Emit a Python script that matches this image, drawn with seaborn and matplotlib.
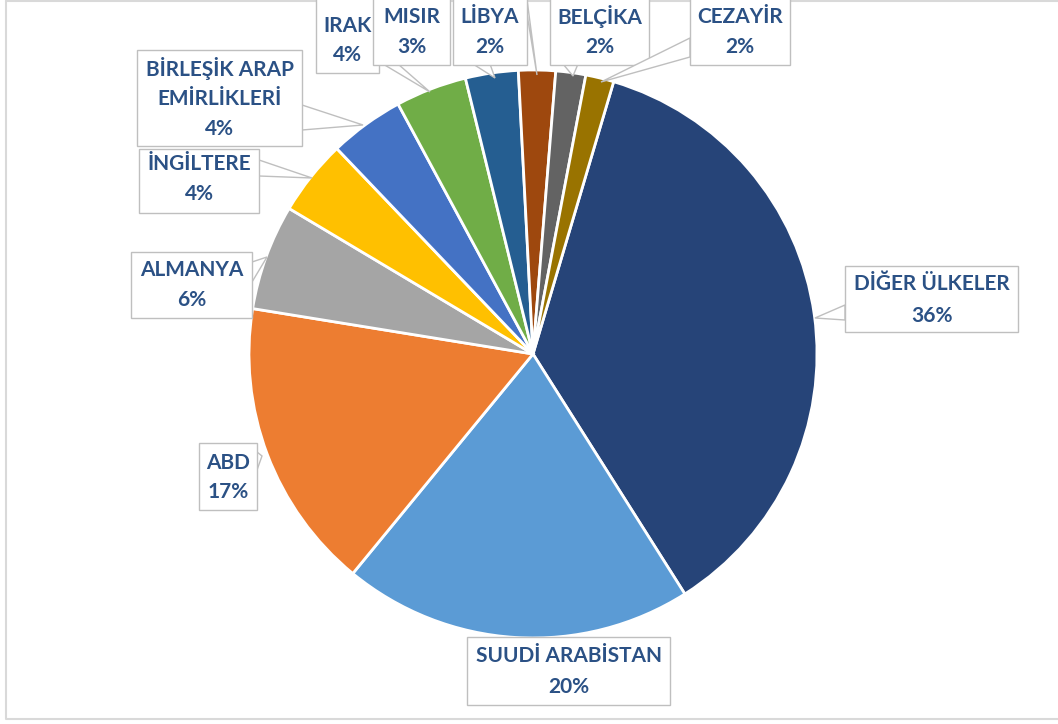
import matplotlib
matplotlib.use("Agg")
import matplotlib.pyplot as plt
import seaborn as sns
from matplotlib.patches import Rectangle, Polygon

sns.set_theme(style="white")
plt.rcParams['font.family'] = ['Lato', 'DejaVu Sans']

# ---- data ----
countries = ["DİĞER ÜLKELER", "SUUDİ ARABİSTAN", "ABD", "ALMANYA", "İNGİLTERE",
             "BİRLEŞİK ARAP\nEMİRLİKLERİ", "IRAK", "MISIR", "LİBYA", "BELÇİKA", "CEZAYİR"]
shares = [36.4, 19.9, 16.6, 6.0, 4.3, 4.25, 4.05, 3.0, 2.1, 1.7, 1.6]
pct_labels = ["36%", "20%", "17%", "6%", "4%", "4%", "4%", "3%", "2%", "2%", "2%"]
colors = ["#264478", "#5B9BD5", "#ED7D31", "#A5A5A5", "#FFC000", "#4472C4",
          "#70AD47", "#255E91", "#9E480E", "#636363", "#997300"]

W, H = 1058, 724
fig = plt.figure(figsize=(W / 100, H / 100), dpi=100)
ax = fig.add_axes([0, 0, 1, 1])


def P(x, y):
    return (x, H - y)


cx, cy = P(533, 354)
ax.pie(shares, colors=sns.color_palette(colors), startangle=73.5, counterclock=False,
       radius=284, center=(cx, cy),
       wedgeprops=dict(edgecolor="white", linewidth=2))
ax.set_xlim(0, W)
ax.set_ylim(0, H)
ax.set_aspect("auto")
ax.axis("off")

# chart border
ax.plot([6, 6, W + 5], [H - 1, 5, 5], color="#d9d9d9", lw=1.5, zorder=1)
ax.plot([6, W + 5], [H - 1, H - 1], color="#d9d9d9", lw=1.5, zorder=1)

txt_color = "#2B5185"
edge = "#bfbfbf"

# callout layout (pixel coords): box, text line y's, wedge (base1, base2, tip)
boxes = [
    ((845, 266, 1018, 332), [284, 316], [((845, 305), (845, 320), (815, 318))]),
    ((467, 637, 670, 705), [656, 687], []),
    ((199, 443, 257, 510), [463, 492], [((257, 452), (257, 470), (262, 456))]),
    ((131, 252, 252, 318), [270, 300], [((252, 262), (252, 282), (267, 257))]),
    ((139, 149, 259, 213), [164, 194], [((259, 160), (259, 176), (312, 178))]),
    ((137, 50, 302, 146), [69, 99, 129], [((302, 105), (302, 130), (363, 125))]),
    ((316, -5, 379, 73), [26, 55], []),
    ((373, -5, 450, 65), [17, 47], [((383, 64), (398, 64), (430, 92))]),
    ((453, -5, 527, 65), [17, 47], [((473, 64), (490, 64), (495, 78)),
                                    ((526, -8), (526, 8), (537, 75))]),
    ((550, -5, 649, 65), [17, 47], [((563, 64), (578, 64), (573, 76))]),
    ((690, -5, 790, 65), [17, 47], [((690, 38), (690, 57), (601, 82))]),
]

z = 5
for i, ((x0, y0, x1, y1), ys, wedges) in enumerate(boxes):
    for b1, b2, tip in wedges:
        ax.add_patch(Polygon([P(*b1), P(*tip), P(*b2)], closed=True, facecolor="white",
                             edgecolor=edge, lw=1, zorder=z))
    ax.add_patch(Rectangle(P(x0, y1), x1 - x0, y1 - y0, facecolor="white",
                           edgecolor=edge, lw=1, zorder=z + 1))
    lines = countries[i].split("\n") + [pct_labels[i]]
    xc = (x0 + x1) / 2
    for t, yy in zip(lines, ys):
        ax.text(*P(xc, yy), t, ha="center", va="center", fontsize=15,
                fontweight="bold", color=txt_color, zorder=z + 2)
    z += 3

fig.savefig("out.png", dpi=100)
